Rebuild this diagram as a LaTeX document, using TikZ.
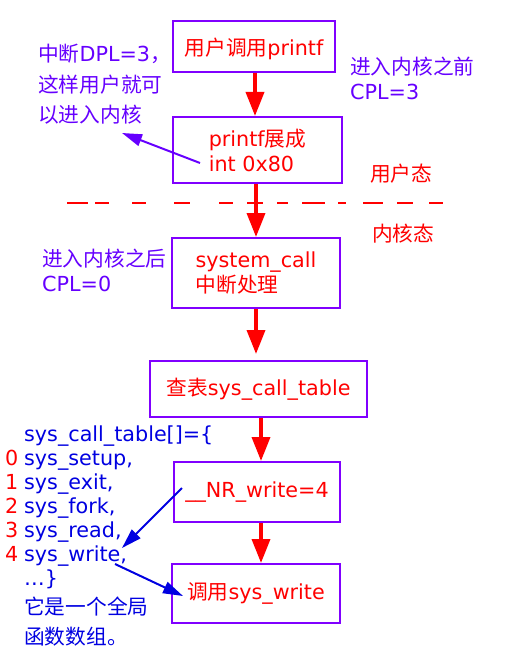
\documentclass[tikz,border=0pt]{standalone}
\usepackage{fontspec}
\setmainfont{DejaVu Sans}
\newfontfamily\zh{Noto Sans CJK SC}
\usetikzlibrary{arrows.meta}
\definecolor{boxviolet}{RGB}{128,0,255}
\definecolor{noteviolet}{RGB}{102,0,255}
\definecolor{listblue}{RGB}{0,0,225}
\tikzset{
  flowbox/.style={draw=boxviolet, line width=2pt, text=red, align=left,
    font=\fontsize{20.7}{25}\selectfont, inner sep=0pt},
  note/.style={anchor=base west, inner sep=0pt, font=\fontsize{20.7}{24}\selectfont},
  flowarrow/.style={draw=red, line width=3.5pt, -{Triangle[length=24pt,width=18pt]}},
  thinarrow/.style={line width=2pt, -{Triangle[length=20pt,width=12pt]}}
}
\begin{document}
\begin{tikzpicture}[x=1pt,y=-1pt]
\useasboundingbox (0,0) rectangle (504,666);
%%%%%%%%% flow boxes
\node[flowbox, minimum width=162pt, minimum height=51pt, text depth=0pt] (call) at (254,46.5) {{\zh 用户调用}printf};
\node[flowbox, minimum width=169pt, minimum height=66pt] (expand) at (257.5,150) {printf{\zh 展成}\\int 0x80};
\node[flowbox, minimum width=168pt, minimum height=70pt] (syscall) at (256,273) {system\_call\\{\zh 中断处理}};
\node[flowbox, minimum width=217pt, minimum height=56pt] (lookup) at (258.5,389) {{\zh 查表}sys\_call\_table};
\node[flowbox, minimum width=166pt, minimum height=60pt] (nrwrite) at (257,492) {\_\_NR\_write=4};
\node[flowbox, minimum width=168pt, minimum height=59pt] (dowrite) at (256,593.5) {{\zh 调用}sys\_write};

\draw[flowarrow] ([xshift=1pt]call.south) to ([xshift=1pt]call.south |- expand.north);
\draw[flowarrow] ([xshift=-1.5pt]expand.south) to ([xshift=-1.5pt]expand.south |- syscall.north);
\draw[flowarrow, shorten >=6pt] (syscall.south) to (syscall.south |- lookup.north);
\draw[flowarrow] ([xshift=2.5pt]lookup.south) to ([xshift=2.5pt]lookup.south |- nrwrite.north);
\draw[flowarrow] ([xshift=4pt]nrwrite.south) to ([xshift=4pt]nrwrite.south |- dowrite.north);

%%%%%%%%% user / kernel border
\coordinate (borderL) at (67,203);
\coordinate (borderR) at (443,203);
\draw[red, line width=2.5pt, dash pattern=on 21pt off 7pt on 14pt off 23pt on 14pt off 28pt on 16pt off 29pt on 14pt off 14pt on 16pt off 14pt on 11pt off 14pt on 23pt off 13pt on 8pt off 17pt on 20pt off 14pt on 16pt off 16pt on 14pt off 20pt] (borderL) to (borderR);
\node[note, text=red] (usermode) at (370,181) {\zh 用户态};
\node[note, text=red] (kernelmode) at (372,241) {\zh 内核态};

%%%%%%%%% privilege notes
\node[note, text=noteviolet] (dpl1) at (38,62) {{\zh 中断}DPL=3{\zh ，}};
\node[note, text=noteviolet] (dpl2) at (38,93) {\zh 这样用户就可};
\node[note, text=noteviolet] (dpl3) at (38,123) {\zh 以进入内核};
\node[note, text=noteviolet] (before1) at (350,75) {\zh 进入内核之前};
\node[note, text=noteviolet] (before2) at (350,100) {CPL=3};
\node[note, text=noteviolet] (after1) at (42,266) {\zh 进入内核之后};
\node[note, text=noteviolet] (after2) at (42,291) {CPL=0};

\coordinate (dplfrom) at (200,163);
\coordinate (dplto) at (122,133);
\draw[thinarrow, noteviolet] (dplfrom) to (dplto);

%%%%%%%%% sys_call_table
\node[note, text=listblue] (tab) at (24,441.5) {sys\_call\_table[]=\{};
\node[note, text=listblue] (tab0) at (24,465.5) {sys\_setup,};
\node[note, text=listblue] (tab1) at (24,489.5) {sys\_exit,};
\node[note, text=listblue] (tab2) at (24,513.5) {sys\_fork,};
\node[note, text=listblue] (tab3) at (24,537.5) {sys\_read,};
\node[note, text=listblue] (tab4) at (24,561.5) {sys\_write,};
\node[note, text=listblue] (tabend) at (24,585.5) {…\}};
\node[note, text=listblue] (tabnote1) at (24,614) {\zh 它是一个全局};
\node[note, text=listblue] (tabnote2) at (24,644) {\zh 函数数组。};

\node[note, text=red] (idx0) at (5,465.5) {0};
\node[note, text=red] (idx1) at (5,489.5) {1};
\node[note, text=red] (idx2) at (5,513.5) {2};
\node[note, text=red] (idx3) at (5,537.5) {3};
\node[note, text=red] (idx4) at (5,561.5) {4};

\coordinate (nrfrom) at (182,488);
\coordinate (nrto) at (122,548);
\coordinate (wrfrom) at (115,564);
\coordinate (wrto) at (183,596);
\draw[thinarrow, listblue] (nrfrom) to (nrto);
\draw[thinarrow, listblue] (wrfrom) to (wrto);

\end{tikzpicture}
\end{document}
